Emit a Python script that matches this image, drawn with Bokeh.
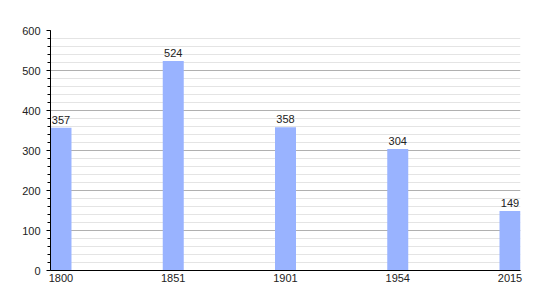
from bokeh.plotting import figure
from bokeh.models import ColumnDataSource, FixedTicker, Range1d
from bokeh.core.properties import value
from bokeh.embed import file_html
from bokeh.resources import INLINE

years = ["1800", "1851", "1901", "1954", "2015"]
population = [357, 524, 358, 304, 149]

xs = list(range(len(years)))
src = ColumnDataSource(dict(x=xs, top=population, label=[str(v) for v in population]))

p = figure(width=550, height=300, output_backend="svg", toolbar_location=None,
           x_range=Range1d(-0.0935, len(years) - 1 + 0.0935), y_range=Range1d(0, 600),
           min_border_left=50, min_border_right=30, min_border_top=30, min_border_bottom=30)
p.outline_line_color = None
p.background_fill_color = "white"

p.vbar(x="x", top="top", width=0.187, source=src, fill_color="#99b3ff", line_color=None)
p.text(x="x", y="top", text="label", source=src, text_align="center", text_baseline="bottom",
       y_offset=-4, text_font=value("Liberation Sans"), text_font_size="11px", text_color="#222222")

# y axis
p.yaxis.ticker = FixedTicker(ticks=[0, 100, 200, 300, 400, 500, 600],
                             minor_ticks=list(range(0, 601, 20)))
p.yaxis.major_tick_in = 0
p.yaxis.major_tick_out = 4
p.yaxis.minor_tick_in = 0
p.yaxis.minor_tick_out = 3
p.yaxis.axis_line_color = "black"
p.yaxis.major_label_text_font = "Liberation Sans"
p.yaxis.major_label_text_font_size = "11px"
p.yaxis.major_label_text_color = "#222222"
p.yaxis.major_label_standoff = 6

# x axis
p.xaxis.ticker = FixedTicker(ticks=xs)
p.xaxis.major_label_overrides = {i: y for i, y in enumerate(years)}
p.xaxis.major_tick_in = 0
p.xaxis.major_tick_out = 0
p.xaxis.minor_tick_line_color = None
p.xaxis.axis_line_color = "black"
p.xaxis.major_label_text_font = "Liberation Sans"
p.xaxis.major_label_text_font_size = "11px"
p.xaxis.major_label_text_color = "#222222"
p.xaxis.major_label_standoff = 3

# grids
p.xgrid.grid_line_color = None
p.ygrid.ticker = FixedTicker(ticks=[100, 200, 300, 400, 500, 600],
                             minor_ticks=[v for v in range(20, 600, 20) if v % 100 != 0])
p.ygrid.grid_line_color = "#b0b0b0"
p.ygrid.minor_grid_line_color = "#e4e4e4"
p.ygrid.level = "underlay"

open("out.html", "w").write(file_html(p, INLINE))
